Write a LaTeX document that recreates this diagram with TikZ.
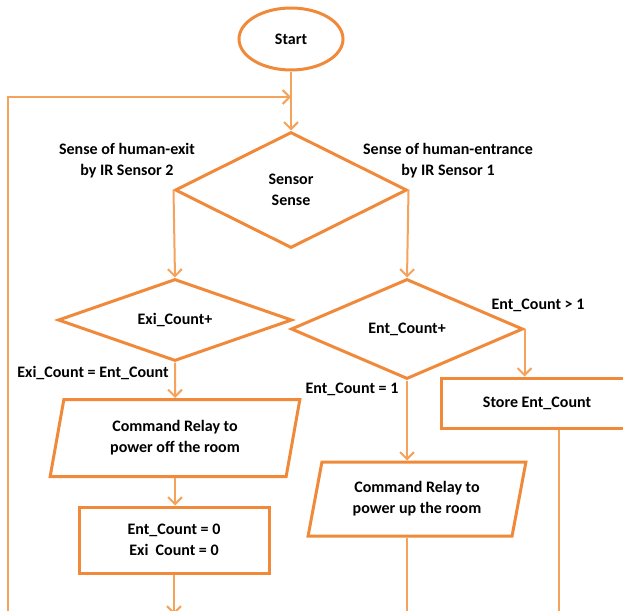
\documentclass[tikz,border=0pt]{standalone}
\usepackage{fontspec}
\setmainfont{Carlito}
\usetikzlibrary{shapes.geometric,arrows.meta}
\definecolor{boxorange}{RGB}{240,138,58}
\definecolor{lineorange}{RGB}{244,162,92}

\begin{document}
\begin{tikzpicture}[x=1pt,y=-1pt,
  font=\fontsize{16}{21}\selectfont\bfseries,
  shapebox/.style={draw=boxorange,line width=3pt,align=center,inner sep=2pt},
  terminal/.style={shapebox,ellipse,minimum width=104,minimum height=62},
  decision/.style={shapebox,diamond,aspect=2.5},
  io/.style={shapebox,trapezium,trapezium stretches=true},
  process/.style={shapebox,rectangle},
  note/.style={align=center,inner sep=0pt},
  line/.style={draw=lineorange,line width=2pt},
  arrow/.style={line,-{Straight Barb[length=7pt,width=14pt]}}]

\useasboundingbox (0,0) rectangle (623,610);
\clip (0,0) rectangle (623,610);

% shapes
\node[terminal] (start) at (291,39) {Start};
\node[decision, minimum width=232, minimum height=116] (sense) at (291,190) {Sensor\\Sense};
\node[decision, minimum width=234, minimum height=82] (exi) at (175,320) {Exi\_Count+};
\node[decision, minimum width=232, minimum height=100] (ent) at (407,329) {Ent\_Count+};
\node[io, trapezium left angle=78, trapezium right angle=102,
      minimum width=250, minimum height=77] (off) at (175,438)
      {Command Relay to\\power off the room};
\node[process, minimum width=190, minimum height=66] (reset) at (174,540)
      {Ent\_Count = 0\\Exi~~Count = 0};
\node[io, trapezium left angle=76, trapezium right angle=104,
      minimum width=218, minimum height=74] (up) at (417,499)
      {Command Relay to\\power up the room};
\node[process, minimum width=192, minimum height=50] (store) at (537,403) {Store Ent\_Count};

% labels
\node[note] (exitlbl) at (127,161) {Sense of human-exit\\by IR Sensor 2};
\node[note] (entlbl) at (448,161) {Sense of human-entrance\\by IR Sensor 1};
\node[note] (eqlbl) at (93,373) {Exi\_Count = Ent\_Count};
\node[note] (onelbl) at (352,389) {Ent\_Count = 1};
\node[note] (gtlbl) at (538,305) {Ent\_Count > 1};

% connectors
\coordinate (join) at (291,97);
\coordinate (loop) at (8,615);
\draw[arrow] (start) -- (sense);
\draw[arrow] (loop) |- (join);
\draw[arrow] (sense.west) -- (exi.north);
\draw[arrow] (sense.east) -- (ent.north);
\draw[arrow] (exi.south) -- (off.north);
\draw[arrow] (off.south) -- (off.south |- reset.north);
\draw[arrow] (reset.south) -- ++(0,40);
\draw[arrow] (ent.east) -- (ent.east |- store.north);
\draw[arrow] (ent.south) -- (ent.south |- up.north);
\draw[line] (ent.south |- up.south) -- ++(0,80);
\draw[line] ([xshift=22pt]store.south) -- ++(0,200);

\end{tikzpicture}
\end{document}
